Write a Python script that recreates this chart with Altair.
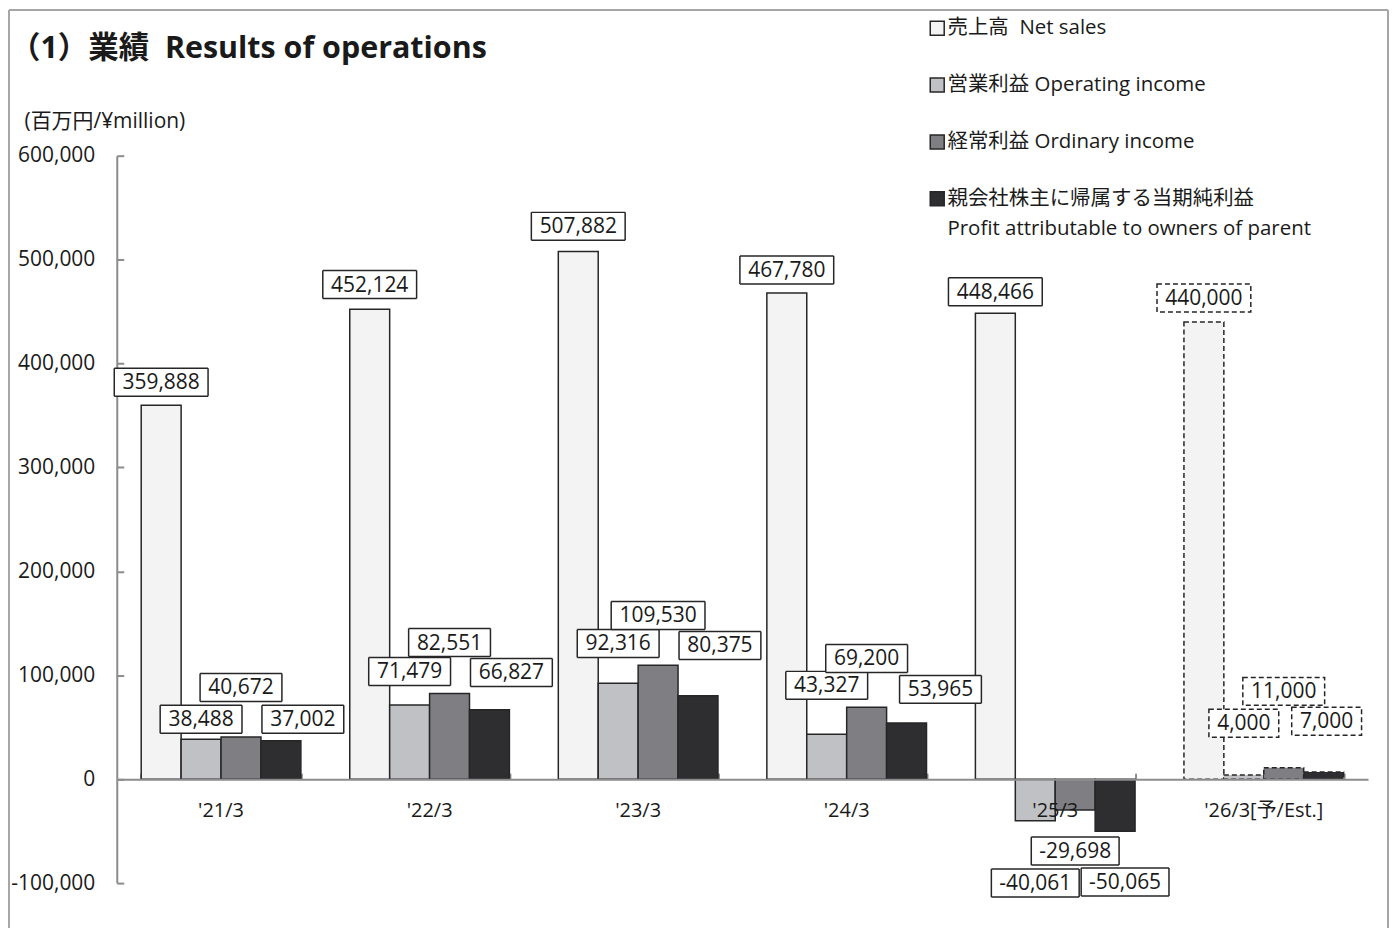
import altair as alt
import pandas as pd

FONT = "'Open Sans', 'Noto Sans CJK JP', sans-serif"

# ---------------- data ----------------
periods = ["'21/3", "'22/3", "'23/3", "'24/3", "'25/3", "'26/3[予/Est.]"]
series_names = [
    "売上高\u00a0 Net sales",
    "営業利益 Operating income",
    "経常利益 Ordinary income",
    "親会社株主に帰属する当期純利益|Profit attributable to owners of parent",
]
net_sales = [359888, 452124, 507882, 467780, 448466, 440000]
operating_income = [38488, 71479, 92316, 43327, -40061, 4000]
ordinary_income = [40672, 82551, 109530, 69200, -29698, 11000]
profit = [37002, 66827, 80375, 53965, -50065, 7000]
is_estimate = [False, False, False, False, False, True]

# label box centres (data units) as placed in the picture
ns_label_y = [382000, 476000, 532000, 490000, 469000, 463000]
oi_label_y = [57600, 103700, 130600, 90300, -99900, 53800]
od_label_y = [88300, 131500, 157500, 116200, -69100, 84500]
pr_label_y = [57600, 102700, 128700, 86400, -98900, 55700]
# horizontal shift (px) of the profit labels to the right of their bars
pr_label_shift = [22, 22, 22, 34, 10, 3]

y_ticks = [-100000, 0, 100000, 200000, 300000, 400000, 500000, 600000]

# ---------------- styles ----------------
colors = ["#f2f3f2", "#c0c1c4", "#7f7f83", "#2e2d2f"]
EDGE = "#262626"
AXIS_GRAY = "#8c8c8c"
TEXT = "#1a1a1a"
W, H = 1254, 729
ZERO_FROM_TOP = H * 6 / 7


def box_path(w, h=28):
    a, b = w / 100, h / 100
    return f"M{-a},{-b}H{a}V{b}H{-a}Z"


series_values = [net_sales, operating_income, ordinary_income, profit]
label_ys = [ns_label_y, oi_label_y, od_label_y, pr_label_y]
label_shifts = [[0] * 6, [0] * 6, [0] * 6, pr_label_shift]

rows = []
for i, p in enumerate(periods):
    for s in range(4):
        v = series_values[s][i]
        lab = f"{v:,}"
        if len(lab) <= 5:
            box = "b5"
        elif len(lab) == 6:
            box = "b6"
        elif lab.startswith("-"):
            box = "b7n"
        else:
            box = "b7"
        rows.append(dict(
            period=p, series=series_names[s], sidx=s, value=v,
            kind="est" if is_estimate[i] else "act",
            label=lab, label_y=label_ys[s][i], shift=label_shifts[s][i], box=box,
        ))
df = pd.DataFrame(rows)

x_scale = alt.Scale(paddingInner=0.2344, paddingOuter=0.1172)
xo = alt.XOffset("series:N", sort=series_names, scale=alt.Scale(paddingInner=0, paddingOuter=0))
y_scale = alt.Scale(domain=[-100000, 600000], nice=False, zero=False)
dash = alt.StrokeDash("kind:N", scale=alt.Scale(domain=["act", "est"], range=[[1, 0], [5, 3]]), legend=None)

x_axis_bottom = alt.Axis(
    orient="bottom", offset=-(H - ZERO_FROM_TOP), title=None, ticks=False,
    domainColor=AXIS_GRAY, domainWidth=2, labelFont=FONT, labelFontSize=20,
    labelColor=TEXT, labelPadding=21, labelAngle=0, zindex=2, grid=False,
)
y_axis_left = alt.Axis(
    values=y_ticks, labelExpr="replace(format(datum.value, ',d'), '\u2212', '-')",
    ticks=False, grid=False, labelPadding=22,
    labelFont=FONT, labelFontSize=21, labelColor=TEXT,
    domainColor=AXIS_GRAY, domainWidth=2,
    title="(百万円/¥million)", titleAngle=0, titleAlign="left", titleBaseline="middle",
    titleX=-93, titleY=-34, titleFont=FONT, titleFontSize=21, titleFontWeight="normal",
    titleColor=TEXT,
)

bars = alt.Chart(df).mark_bar(stroke=EDGE, strokeWidth=1.5).encode(
    x=alt.X("period:N", sort=periods, scale=x_scale, axis=x_axis_bottom),
    xOffset=xo,
    y=alt.Y("value:Q", scale=y_scale, axis=y_axis_left),
    fill=alt.Fill(
        "series:N", sort=series_names,
        scale=alt.Scale(domain=series_names, range=colors),
        legend=alt.Legend(
            title=None, orient="none", legendX=812, legendY=-138, direction="vertical",
            symbolType="square", symbolSize=196, symbolStrokeColor=EDGE, symbolStrokeWidth=1.5,
            labelFont=FONT, labelFontSize=20.5, labelColor=TEXT, labelLimit=0,
            labelOffset=0, rowPadding=36, padding=0,
            labelExpr="split(datum.label, '|')",
        ),
    ),
    strokeDash=dash,
)

# host for inward-pointing tick marks (top x axis moved to zero line, right y axis moved to left edge)
ticks_host = alt.Chart(df).mark_tick(opacity=0).encode(
    x=alt.X("period:N", sort=periods, scale=x_scale, axis=alt.Axis(
        orient="top", offset=-ZERO_FROM_TOP, labels=False, domain=False, title=None,
        tickBand="extent", tickSize=6, tickColor=AXIS_GRAY, tickWidth=2, grid=False)),
    y=alt.Y("value:Q", scale=y_scale, axis=alt.Axis(
        orient="right", offset=-W, labels=False, domain=False, title=None,
        values=y_ticks, tickSize=7, tickColor=AXIS_GRAY, tickWidth=2, grid=False)),
)

layers = [bars, ticks_host]
groups = sorted(set(zip(df["sidx"], df["shift"])))
for s, sh in groups:
    s, sh = int(s), int(sh)
    base = alt.Chart(df).transform_filter(
        (alt.datum.sidx == s) & (alt.datum.shift == sh))
    x_lab = alt.X("period:N", sort=periods, scale=x_scale, axis=None,
                  bandPosition=(s + 0.5) / 4)
    boxes = base.mark_point(
        filled=True, fill="white", stroke=EDGE, strokeWidth=1.5, opacity=1,
        size=10000, xOffset=sh,
    ).encode(
        x=x_lab,
        y=alt.Y("label_y:Q", scale=y_scale, axis=None),
        shape=alt.Shape("box:N", scale=alt.Scale(
            domain=["b5", "b6", "b7", "b7n"],
            range=[box_path(70), box_path(82), box_path(94), box_path(88)]), legend=None),
        strokeDash=dash,
    )
    texts = base.mark_text(
        font=FONT, fontSize=21, color=TEXT, baseline="middle", align="center",
        xOffset=sh, dy=1,
    ).encode(
        x=x_lab,
        y=alt.Y("label_y:Q", scale=y_scale, axis=None),
        text="label:N",
    )
    layers += [boxes, texts]

# outer frame (decoration)
frame_src = alt.Data(values=[{"f": 1}])
FRAME = "#a6a6a6"
frame_left = alt.Chart(frame_src).mark_rule(color=FRAME, strokeWidth=2).encode(
    x=alt.value(-108), y=alt.value(-146), y2=alt.value(H + 45))
frame_top = alt.Chart(frame_src).mark_rule(color=FRAME, strokeWidth=2).encode(
    x=alt.value(-108), x2=alt.value(W + 20), y=alt.value(-146))
frame_right = alt.Chart(frame_src).mark_rule(color=FRAME, strokeWidth=2).encode(
    x=alt.value(W + 20), y=alt.value(-146), y2=alt.value(H + 45))
layers += [frame_left, frame_top, frame_right]

chart = alt.layer(*layers).resolve_axis(
    x="independent", y="independent"
).properties(
    width=W, height=H, padding=0,
    title=alt.Title(
        "（1）業績 \u00a0Results of operations", anchor="start", frame="group",
        dx=-107, offset=-56, font=FONT, fontSize=30.5, fontWeight="bold", color=TEXT,
    ),
).configure(
    view={"strokeWidth": 0},
    style={"guide-label": {"lineHeight": 30}},
)

chart.save("out.html", embed_options={"renderer": "svg", "actions": False})
